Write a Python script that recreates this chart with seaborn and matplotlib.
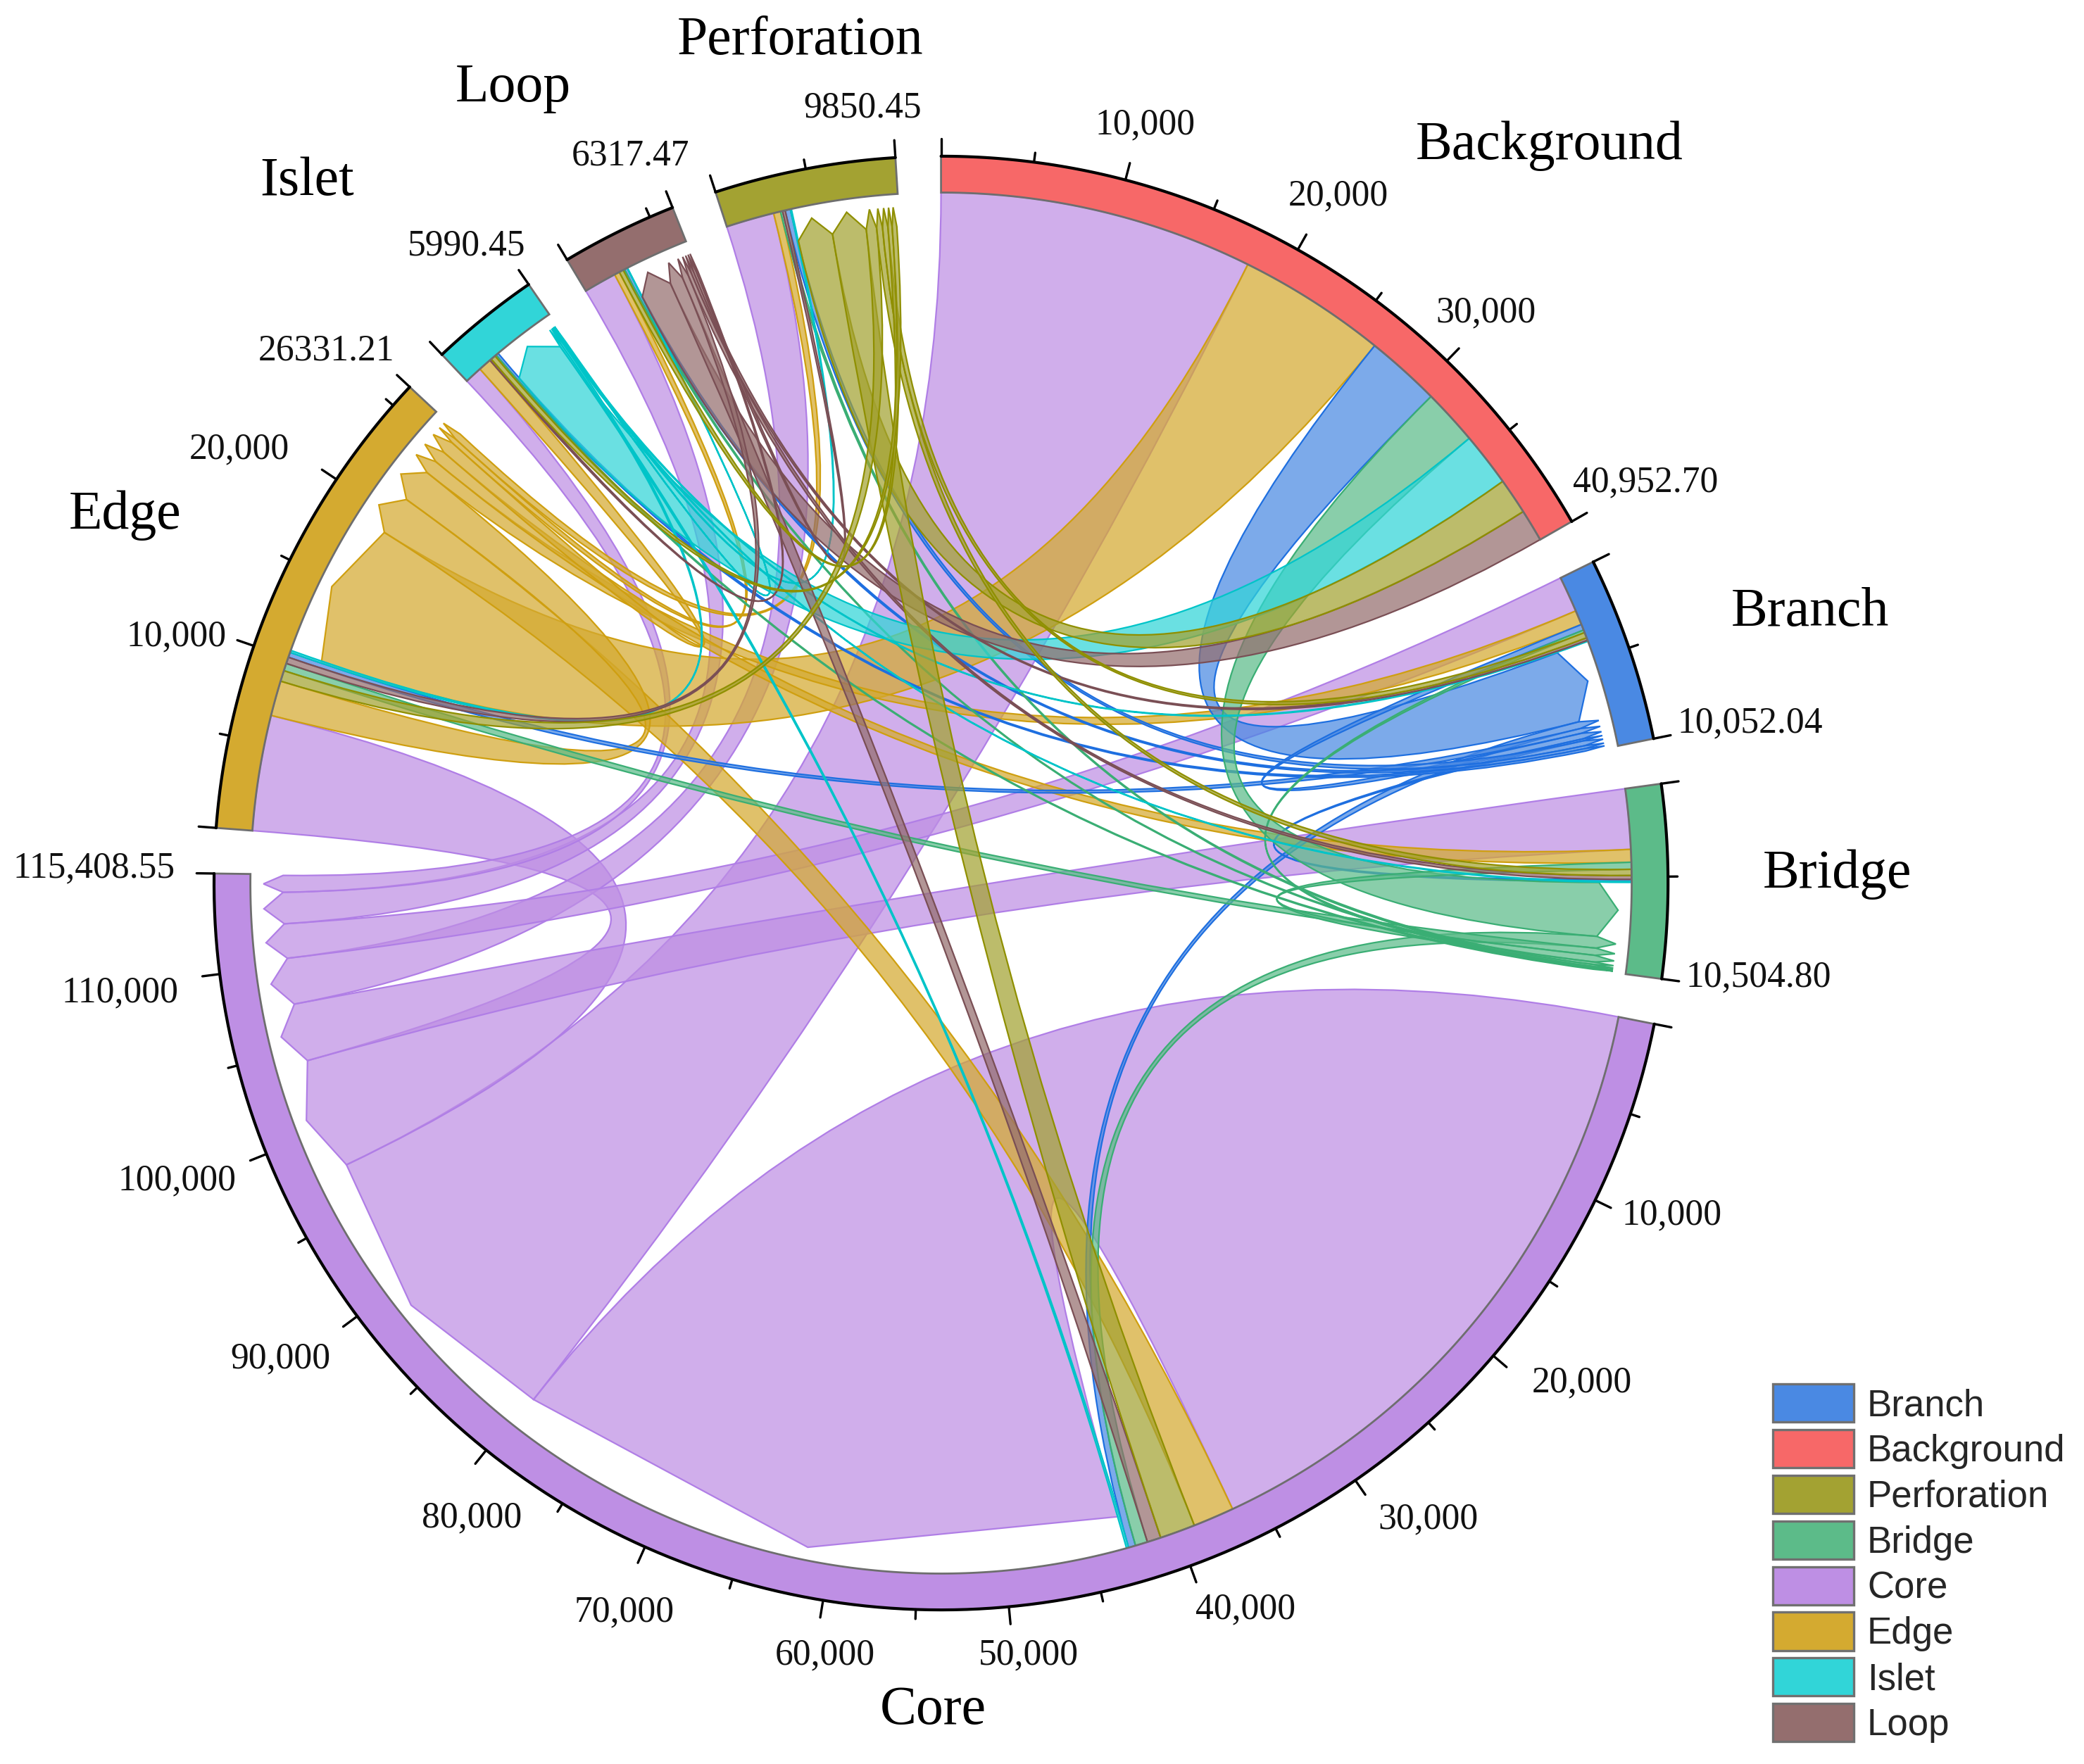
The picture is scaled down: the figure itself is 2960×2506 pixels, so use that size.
import numpy as np
import matplotlib
matplotlib.use('Agg')
import matplotlib.pyplot as plt
from matplotlib.path import Path
from matplotlib.patches import PathPatch, Patch
import seaborn as sns

sns.set_theme(style='white')
plt.rcParams['font.family'] = ['Liberation Serif', 'DejaVu Serif']

sectors = ['Background', 'Branch', 'Bridge', 'Core', 'Edge', 'Islet', 'Loop', 'Perforation']
totals = [40952.70, 10052.04, 10504.80, 115408.55, 26331.21, 5990.45, 6317.47, 9850.45]
legend_order = ['Branch', 'Background', 'Perforation', 'Bridge', 'Core', 'Edge', 'Islet', 'Loop']

# ring colours and the stronger outline colour of the ribbons
palette = {'Branch': '#4A89E3', 'Background': '#F76868', 'Perforation': '#A3A232', 'Bridge': '#5CBB89',
           'Core': '#BE8FE4', 'Edge': '#D4AA30', 'Islet': '#31D5D8', 'Loop': '#946E6E'}
outline = {'Branch': '#1E6FE0', 'Background': '#F04040', 'Perforation': '#8F8F00', 'Bridge': '#3AAE74',
           'Core': '#B07EE6', 'Edge': '#CF9F10', 'Islet': '#00C4C8', 'Loop': '#7A4F55'}

# flows leaving each sector, in the order they sit on its arc
core_out = [('Core', 36650), ('Background', 17950), ('Edge', 6600), ('Bridge', 3440),
            ('Perforation', 2750), ('Branch', 2050), ('Loop', 1870), ('Islet', 1000)]
edge_out = [('Background', 8520), ('Core', 2350), ('Edge', 2010), ('Branch', 830),
            ('Bridge', 730), ('Islet', 750), ('Loop', 300), ('Perforation', 400)]
branch_out = [('Background', 4290), ('Core', 410), ('Edge', 290), ('Branch', 340),
              ('Bridge', 120), ('Perforation', 300), ('Loop', 170), ('Islet', 150)]
bridge_out = [('Background', 3200), ('Core', 700), ('Edge', 430), ('Bridge', 400),
              ('Branch', 150), ('Perforation', 120), ('Loop', 80), ('Islet', 80)]
islet_out = [('Background', 3080), ('Core', 120), ('Edge', 120), ('Bridge', 50),
             ('Branch', 60), ('Loop', 20), ('Perforation', 60)]
loop_out = [('Background', 1850), ('Core', 790), ('Edge', 370), ('Bridge', 220),
            ('Branch', 150), ('Perforation', 150), ('Islet', 100)]
perforation_out = [('Background', 2060), ('Core', 2020), ('Edge', 620), ('Bridge', 350),
                   ('Branch', 320), ('Loop', 250), ('Islet', 280)]
flows = {'Core': core_out, 'Edge': edge_out, 'Branch': branch_out, 'Bridge': bridge_out,
         'Islet': islet_out, 'Loop': loop_out, 'Perforation': perforation_out}

# order of the incoming ribbons on each arc
in_order = {'Background': ['Core', 'Edge', 'Branch', 'Bridge', 'Islet', 'Perforation', 'Loop'],
            'Branch': ['Core', 'Edge', 'Branch', 'Bridge', 'Perforation', 'Loop', 'Islet'],
            'Bridge': ['Core', 'Edge', 'Bridge', 'Perforation', 'Loop', 'Branch', 'Islet'],
            'Core': ['Core', 'Edge', 'Perforation', 'Loop', 'Bridge', 'Branch', 'Islet'],
            'Edge': ['Core', 'Edge', 'Perforation', 'Bridge', 'Loop', 'Branch', 'Islet'],
            'Islet': ['Core', 'Edge', 'Loop', 'Perforation', 'Bridge', 'Branch'],
            'Loop': ['Core', 'Edge', 'Perforation', 'Bridge', 'Branch', 'Islet'],
            'Perforation': ['Core', 'Edge', 'Bridge', 'Loop', 'Branch', 'Islet']}

# text positions, in pixels of the full size picture
name_px = {'Perforation': (1137, 58), 'Loop': (729, 125), 'Islet': (436, 258), 'Edge': (178, 732),
           'Background': (2201, 207), 'Branch': (2571, 870), 'Bridge': (2609, 1242), 'Core': (1325, 2430)}
tick_labels = ['10,000', '20,000', '30,000', '40,952.70', '10,052.04', '10,504.80',
               '10,000', '20,000', '30,000', '40,000', '50,000', '60,000', '70,000', '80,000',
               '90,000', '100,000', '110,000', '115,408.55', '10,000', '20,000', '26331.21',
               '5990.45', '6317.47', '9850.45']
tick_label_x = [1627, 1901, 2111, 2337, 2486, 2498, 2375, 2247, 2028, 1769, 1461, 1172, 887, 670,
                398, 251, 170, 134, 251, 340, 464, 663, 895, 1225]
tick_label_y = [177, 278, 444, 685, 1027, 1388, 1726, 1964, 2158, 2286, 2351, 2351, 2290, 2156,
                1930, 1677, 1410, 1233, 904, 638, 498, 349, 221, 153]

GAP = 3.6
R_OUT, R_IN, R_TIP, R_BASE = 1.0, 0.95, 0.932, 0.905
CX, CY, R_PX = 1336.6, 1254.5, 1032.6
deg_per_unit = (360 - GAP * len(sectors)) / sum(totals)

starts = {}
pos = 0.0
for name, total in zip(sectors, totals):
    starts[name] = pos
    pos += total * deg_per_unit + GAP


def to_xy(angle, r):
    t = np.radians(angle)
    return r * np.sin(t), r * np.cos(t)


def arc_points(a0, a1, r):
    n = max(int(abs(a1 - a0) * 2) + 2, 3)
    return [to_xy(a, r) for a in np.linspace(a0, a1, n)]


# walk round every sector: incoming slots first, outgoing slots after them
cursor = {name: 0.0 for name in sectors}
in_slot = {}
out_slot = {}
for name in sectors:
    for src in in_order[name]:
        val = dict(flows[src]).get(name, 0)
        in_slot[(src, name)] = (cursor[name], cursor[name] + val)
        cursor[name] += val
    for dst, val in flows.get(name, []):
        out_slot[(name, dst)] = (cursor[name], cursor[name] + val)
        cursor[name] += val


def sector_angle(name, value):
    return starts[name] + value * deg_per_unit


fig = plt.figure(figsize=(14.8, 12.53), dpi=200)
ax = fig.add_axes([0, 0, 1, 1])
ax.set_xlim(-CX / R_PX, (2960 - CX) / R_PX)
ax.set_ylim((CY - 2506) / R_PX, CY / R_PX)
ax.axis('off')

# ribbons
for src in ['Core', 'Edge', 'Branch', 'Bridge', 'Islet', 'Loop', 'Perforation']:
    for dst, val in flows[src]:
        s0, s1 = out_slot[(src, dst)]
        d0, d1 = in_slot[(src, dst)]
        a0, a1 = sector_angle(dst, d0), sector_angle(dst, d1)
        b0, b1 = sector_angle(src, s0), sector_angle(src, s1)
        verts = arc_points(a0, a1, R_IN)
        codes = [Path.MOVETO] + [Path.LINETO] * (len(verts) - 1)
        verts += [(0, 0), to_xy(b0, R_BASE)]
        codes += [Path.CURVE3, Path.CURVE3]
        verts += [to_xy((b0 + b1) / 2, R_TIP), to_xy(b1, R_BASE)]
        codes += [Path.LINETO, Path.LINETO]
        verts += [(0, 0), to_xy(a0, R_IN)]
        codes += [Path.CURVE3, Path.CURVE3]
        face = matplotlib.colors.to_rgba(palette[src], 0.72)
        ax.add_patch(PathPatch(Path(verts, codes), facecolor=face, edgecolor=outline[src], lw=0.8, zorder=2))

# ring, outer black line and ticks
for name, total in zip(sectors, totals):
    a0, a1 = sector_angle(name, 0), sector_angle(name, total)
    verts = arc_points(a0, a1, R_OUT) + arc_points(a1, a0, R_IN)
    verts.append(verts[0])
    ax.fill(*zip(*verts), facecolor=palette[name], edgecolor='#6E6E6E', lw=1.0, zorder=3)
    ax.plot(*zip(*arc_points(a0, a1, R_OUT)), color='black', lw=1.5, zorder=4, solid_capstyle='round')
    for angle in (a0, a1):
        ax.plot(*zip(to_xy(angle, R_OUT), to_xy(angle, R_OUT + 0.024)), color='black', lw=1.2, zorder=4)
    for v in np.arange(5000, total - 1000, 5000):
        angle = sector_angle(name, v)
        major = v % 10000 == 0 and total > 20000
        ax.plot(*zip(to_xy(angle, R_OUT), to_xy(angle, R_OUT + (0.024 if major else 0.013))),
                color='black', lw=1.2, zorder=4)
    px, py = name_px[name]
    ax.text((px - CX) / R_PX, (CY - py) / R_PX, name, fontsize=28, ha='center', va='center', color='black')

for label, px, py in zip(tick_labels, tick_label_x, tick_label_y):
    ax.text((px - CX) / R_PX, (CY - py) / R_PX, label, fontsize=18.6, ha='center', va='center', color='#111111')

handles = [Patch(facecolor=palette[n], edgecolor='#707070', lw=1.2, label=n) for n in legend_order]
leg = ax.legend(handles=handles, loc='lower left', bbox_to_anchor=(2518 / 2960, 1 - 2476 / 2506),
                frameon=False, borderpad=0, borderaxespad=0, handlelength=2.18, handleheight=1.2,
                labelspacing=0.17, handletextpad=0.36, prop={'family': 'Liberation Sans', 'size': 19})

fig.savefig('out.png', dpi=200, facecolor='white')
